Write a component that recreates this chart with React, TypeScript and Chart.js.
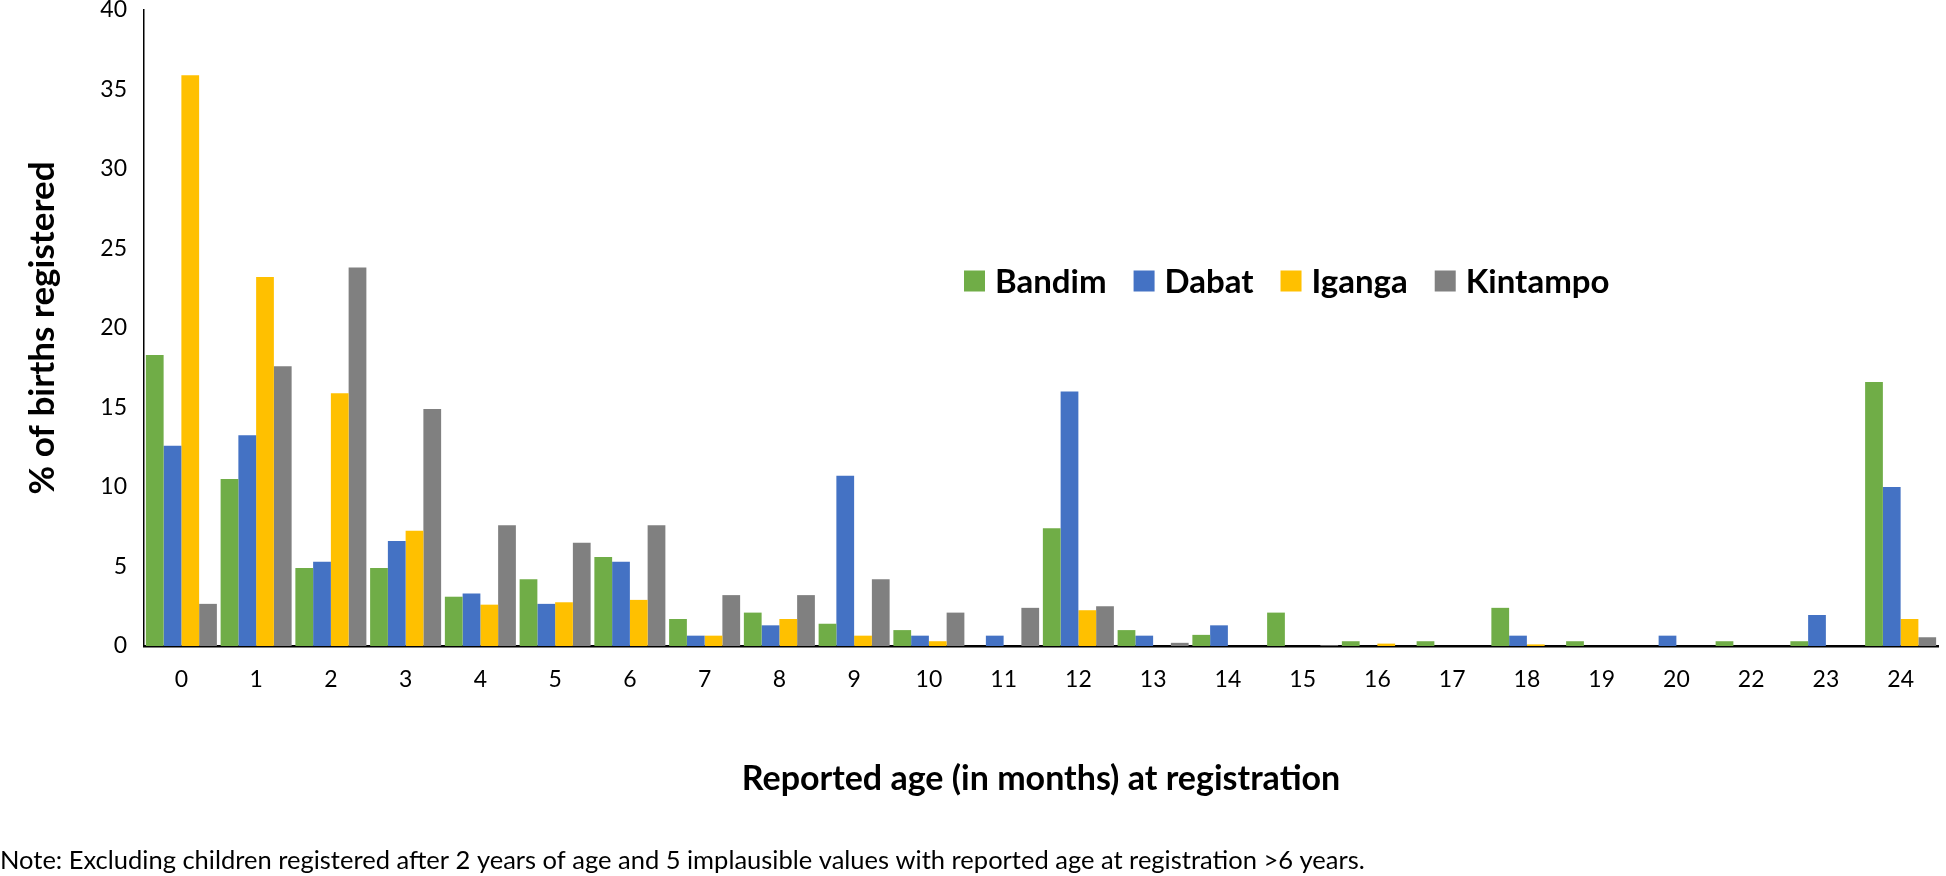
import React, { useEffect, useRef } from "react";
import { Chart, registerables } from "chart.js";

Chart.register(...registerables);

const categories = ["0","1","2","3","4","5","6","7","8","9","10","11","12","13","14","15","16","17","18","19","20","22","23","24"];
const bandim = [18.3,10.5,4.9,4.9,3.1,4.2,5.6,1.7,2.1,1.4,1.0,0,7.4,1.0,0.7,2.1,0.3,0.3,2.4,0.3,0,0.3,0.3,16.6];
const dabat = [12.6,13.25,5.3,6.6,3.3,2.65,5.3,0.65,1.3,10.7,0.65,0.65,16.0,0.65,1.3,0,0,0,0.65,0,0.65,0,1.95,10.0];
const iganga = [35.9,23.2,15.9,7.25,2.6,2.75,2.9,0.65,1.7,0.65,0.3,0,2.25,0,0,0,0.15,0,0.1,0,0,0,0,1.7];
const kintampo = [2.65,17.6,23.8,14.9,7.6,6.5,7.6,3.2,3.2,4.2,2.1,2.4,2.5,0.2,0,0.05,0,0,0,0,0,0,0,0.55];
const seriesNames = ["Bandim", "Dabat", "Iganga", "Kintampo"];
const seriesColors = ["#70AD47", "#4472C4", "#FFC000", "#808080"];
const yTitle = "% of births registered";
const xTitle = "Reported age (in months) at registration";
const noteText = "Note: Excluding children registered after 2 years of age and 5 implausible values with reported age at registration >6 years.";

const FONT = "Lato, 'Open Sans', sans-serif";

const inlineLegend = {
  id: "inlineLegend",
  afterDatasetsDraw(chart: any) {
    const { ctx } = chart;
    ctx.save();
    ctx.font = `bold 33px ${FONT}`;
    ctx.textBaseline = "middle";
    ctx.textAlign = "left";
    let x = 964;
    const y = 281;
    const box = 21;
    chart.data.datasets.forEach((ds: any) => {
      ctx.fillStyle = ds.backgroundColor;
      ctx.fillRect(x, y - box / 2, box, box);
      x += box + 10;
      ctx.fillStyle = "#000";
      ctx.fillText(ds.label, x, y + 1);
      x += ctx.measureText(ds.label).width + 27;
    });
    ctx.restore();
  },
};

const notePlugin = {
  id: "notePlugin",
  afterDraw(chart: any) {
    const { ctx } = chart;
    ctx.save();
    ctx.font = `25.5px ${FONT}`;
    ctx.fillStyle = "#000";
    ctx.textBaseline = "middle";
    ctx.textAlign = "left";
    ctx.fillText(noteText, 0, 861);
    ctx.restore();
  },
};

export default function App() {
  const ref = useRef<HTMLCanvasElement | null>(null);
  useEffect(() => {
    document.body.style.margin = "0";
    const values = [bandim, dabat, iganga, kintampo];
    const chart = new Chart(ref.current as HTMLCanvasElement, {
      type: "bar",
      data: {
        labels: categories,
        datasets: seriesNames.map((name, i) => ({
          label: name,
          data: values[i],
          backgroundColor: seriesColors[i],
          borderWidth: 0,
          categoryPercentage: 0.95,
          barPercentage: 1.0,
        })),
      },
      options: {
        animation: false,
        responsive: false,
        devicePixelRatio: 1,
        layout: { padding: { left: 0, right: 8, top: 10, bottom: 0 } },
        plugins: {
          legend: { display: false },
          tooltip: { enabled: false },
        },
        scales: {
          x: {
            grid: { display: false, drawTicks: false },
            border: { display: true, color: "#000", width: 2.5 },
            ticks: { color: "#000", font: { family: FONT, size: 23 }, padding: 20, maxRotation: 0, autoSkip: false },
            title: {
              display: true,
              text: xTitle,
              color: "#000",
              font: { family: FONT, size: 34, weight: "bold" },
              padding: { top: 0, bottom: 77 },
            },
            afterFit: (s: any) => { s.height = 230; s.paddingLeft = 0; s.paddingRight = 0; },
          },
          y: {
            min: 0,
            max: 40,
            grid: { display: false, drawTicks: false },
            border: { display: true, color: "#000", width: 1.5 },
            ticks: { stepSize: 5, color: "#000", font: { family: FONT, size: 23 }, padding: 17 },
            title: {
              display: true,
              text: yTitle,
              color: "#000",
              font: { family: FONT, size: 35, weight: "bold" },
              padding: { top: 22, bottom: 0 },
            },
            afterFit: (s: any) => { s.width = 144; s.paddingTop = 0; s.paddingBottom = 0; },
          },
        },
      },
      plugins: [inlineLegend, notePlugin],
    });
    return () => chart.destroy();
  }, []);
  return (
    <div style={{ width: 1946, height: 876 }}>
      <canvas ref={ref} width={1946} height={876} style={{ display: "block" }} />
    </div>
  );
}
